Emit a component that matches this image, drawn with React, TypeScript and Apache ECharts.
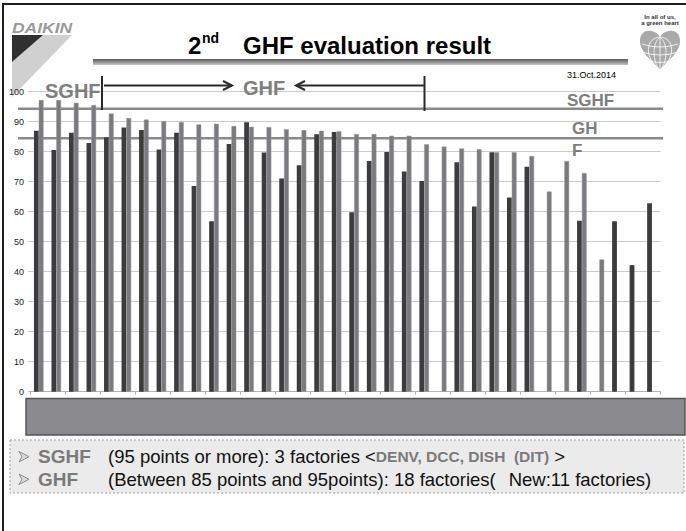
import React, { useEffect, useRef } from "react";
import * as echarts from "echarts";

// ---- data ----
const factories = [
  "F01", "F02", "F03", "F04", "F05", "F06", "F07", "F08", "F09", "F10", "F11", "F12",
  "F13", "F14", "F15", "F16", "F17", "F18", "F19", "F20", "F21", "F22", "F23", "F24",
  "F25", "F26", "F27", "F28", "F29", "F30", "F31", "F32", "F33", "F34", "F35", "F36",
];
const firstEvaluation = [
  87.0, 80.6, 86.3, 82.9, 84.8, 88.1, 87.2, 80.7, 86.3, 68.6, 56.8, 82.6,
  89.8, 79.7, 71.1, 75.5, 85.8, 86.6, 59.8, 76.9, 79.9, 73.4, 70.2, null,
  76.5, 61.7, 79.8, 64.7, 75.0, null, null, 57.0, null, 56.8, 42.2, 62.8,
];
const secondEvaluation = [
  97.2, 97.2, 96.3, 95.6, 92.7, 91.2, 90.7, 90.2, 89.9, 89.1, 89.3, 88.6,
  88.3, 88.2, 87.5, 87.2, 87.0, 86.8, 85.9, 85.9, 85.3, 85.3, 82.5, 81.7,
  81.1, 80.8, 79.8, 79.8, 78.6, 66.7, 76.9, 72.9, 44.1, null, null, null,
];
const thresholdLines = [94.3, 84.5];
const yMin = 0;
const yMax = 100;
const yInterval = 10;

const FONT = '"Liberation Sans", Arial, "Noto Sans CJK JP", sans-serif';

const HEART =
  "M20 9 C 16 1, 0 -1, 0 13 C 0 25, 13 33, 20 42 C 27 33, 40 25, 40 13 C 40 -1, 24 1, 20 9 Z";
const GLOBE =
  "M20 9 L20 42 M20 9 C 12 15, 12 34, 20 42 M20 9 C 28 15, 28 34, 20 42 " +
  "M20 9 C 5 10, 4 30, 20 42 M20 9 C 35 10, 36 30, 20 42 " +
  "M2 16 Q20 22 38 16 M2 24 Q20 30 38 24 M7 32 Q20 37 33 32";
echarts.graphic.registerShape("heartLogo", echarts.graphic.extendPath(HEART, {}));
echarts.graphic.registerShape("globeLines", echarts.graphic.extendPath(GLOBE, {}));

function txt(x: number, y: number, text: string, s: any, extra: any = {}) {
  return {
    type: "text",
    x,
    y,
    z: 10,
    ...extra,
    style: {
      text,
      fontFamily: FONT,
      fill: "#000",
      align: "left",
      verticalAlign: "middle",
      textAlign: "left",
      textVerticalAlign: "middle",
      ...s,
    },
  };
}

export default function App() {
  const ref = useRef<HTMLDivElement>(null);

  useEffect(() => {
    if (!ref.current) return;
    const chart = echarts.init(ref.current, undefined, { renderer: "svg" });
    chart.setOption({
      animation: false,
      backgroundColor: "#ffffff",
      grid: { left: 30, right: 25.3, top: 91.7, bottom: 139.3 },
      xAxis: {
        type: "category",
        data: factories,
        axisLine: { lineStyle: { color: "#b4b4b4", width: 1 } },
        axisTick: { show: true, length: 3, lineStyle: { color: "#b4b4b4" } },
        axisLabel: { show: false },
        splitLine: { show: false },
      },
      yAxis: {
        type: "value",
        min: yMin,
        max: yMax,
        interval: yInterval,
        axisLine: { show: false },
        axisTick: { show: true, length: 2, lineStyle: { color: "#c8c8c8" } },
        axisLabel: { fontSize: 9, color: "#222", margin: 6, fontFamily: FONT },
        splitLine: { lineStyle: { color: "#cbcbcb", width: 1 } },
      },
      series: [
        {
          type: "bar",
          name: "1st",
          data: firstEvaluation,
          barWidth: 4.8,
          barGap: "0%",
          itemStyle: { color: "#3c3c3c" },
        },
        {
          type: "bar",
          name: "2nd",
          data: secondEvaluation,
          barWidth: 4.8,
          barGap: "0%",
          itemStyle: { color: "#7a7b7f", borderColor: "#9a9a9e", borderWidth: 0.5 },
        },
      ],
    });

    const yS = chart.convertToPixel({ yAxisIndex: 0 }, thresholdLines[0]) as number;
    const yG = chart.convertToPixel({ yAxisIndex: 0 }, thresholdLines[1]) as number;

    const elements: any[] = [
      // slide border
      { type: "line", z: 20, shape: { x1: 2, y1: 4, x2: 686, y2: 4 }, style: { stroke: "#1e1e1e", lineWidth: 2 } },
      { type: "line", z: 20, shape: { x1: 3, y1: 3, x2: 3, y2: 531 }, style: { stroke: "#1e1e1e", lineWidth: 2 } },
      // Daikin logo
      {
        type: "polygon",
        z: 0,
        shape: { points: [[43, 35], [72, 35], [12, 97], [12, 62]] },
        style: { fill: "#d0d0d0" },
      },
      {
        type: "polygon",
        z: 0,
        shape: { points: [[12, 35], [43, 35], [12, 62]] },
        style: { fill: "#303030" },
      },
      txt(12, 28, "DAIKIN", { fontSize: 14, fontWeight: "bold", fontStyle: "italic", fill: "#9a9a9a" }, { scaleX: 1.25 }),
      // heart logo
      { type: "heartLogo", x: 640, y: 28, z: 10, style: { fill: "#a9a9a9" } },
      { type: "globeLines", x: 640, y: 28, z: 11, style: { fill: null, stroke: "#ffffff", lineWidth: 0.8 } },
      txt(660, 17, "In all of us,", { fontSize: 6, fontWeight: "bold", fill: "#333", align: "center", textAlign: "center" }),
      txt(660, 23, "a green heart", { fontSize: 6, fontWeight: "bold", fill: "#333", align: "center", textAlign: "center" }),
      // title
      txt(188, 45, "2", { fontSize: 24, fontWeight: "bold" }),
      txt(202, 38, "nd", { fontSize: 14, fontWeight: "bold" }),
      txt(243, 45, "GHF evaluation result", { fontSize: 24, fontWeight: "bold" }),
      {
        type: "rect",
        z: 5,
        shape: { x: 93, y: 59, width: 535, height: 6 },
        style: {
          fill: new echarts.graphic.LinearGradient(0, 0, 0, 1, [
            { offset: 0, color: "#585858" },
            { offset: 1, color: "#c6c6c6" },
          ]),
        },
      },
      txt(567, 75, "31.Oct.2014", { fontSize: 9 }),
      // threshold lines
      { type: "line", z: 1, shape: { x1: 18, y1: yS, x2: 663, y2: yS }, style: { stroke: "#8a8a8a", lineWidth: 2.5 } },
      { type: "line", z: 1, shape: { x1: 18, y1: yG, x2: 663, y2: yG }, style: { stroke: "#8a8a8a", lineWidth: 2.5 } },
      // range markers and arrows
      { type: "line", z: 12, shape: { x1: 102, y1: 76, x2: 102, y2: 110 }, style: { stroke: "#2a2a2a", lineWidth: 2 } },
      { type: "line", z: 12, shape: { x1: 424.5, y1: 76, x2: 424.5, y2: 111 }, style: { stroke: "#2a2a2a", lineWidth: 2 } },
      { type: "line", z: 12, shape: { x1: 104, y1: 85.5, x2: 232, y2: 85.5 }, style: { stroke: "#2a2a2a", lineWidth: 2 } },
      { type: "polyline", z: 12, shape: { points: [[223, 81], [232, 85.5], [223, 90]] }, style: { stroke: "#2a2a2a", lineWidth: 2, fill: null } },
      { type: "line", z: 12, shape: { x1: 296, y1: 85.5, x2: 424, y2: 85.5 }, style: { stroke: "#2a2a2a", lineWidth: 2 } },
      { type: "polyline", z: 12, shape: { points: [[305, 81], [296, 85.5], [305, 90]] }, style: { stroke: "#2a2a2a", lineWidth: 2, fill: null } },
      txt(45, 91, "SGHF", { fontSize: 20, fontWeight: "bold", fill: "#7e7e7e" }),
      txt(243, 88, "GHF", { fontSize: 20, fontWeight: "bold", fill: "#7e7e7e" }),
      txt(567, 100, "SGHF", { fontSize: 17, fontWeight: "bold", fill: "#7e7e7e" }),
      txt(572, 128.5, "GH", { fontSize: 17, fontWeight: "bold", fill: "#7e7e7e" }),
      txt(572, 150, "F", { fontSize: 17, fontWeight: "bold", fill: "#7e7e7e" }),
      // gray band under the axis
      {
        type: "rect",
        z: 5,
        shape: { x: 26, y: 398.5, width: 659, height: 36.5 },
        style: { fill: "#8b8b8f", stroke: "#565656", lineWidth: 1.5 },
      },
      // note box
      {
        type: "rect",
        z: 5,
        shape: { x: 10, y: 440, width: 674, height: 53 },
        style: { fill: "#ebebeb", stroke: "#a0a0a0", lineWidth: 1, lineDash: [2, 2] },
      },
      {
        type: "polygon",
        z: 10,
        shape: { points: [[19, 451.5], [29, 456.7], [19, 461.9], [22, 456.7]] },
        style: { fill: "#dcdcdc", stroke: "#8a8a8a", lineWidth: 1 },
      },
      {
        type: "polygon",
        z: 10,
        shape: { points: [[19, 474.1], [29, 479.3], [19, 484.5], [22, 479.3]] },
        style: { fill: "#dcdcdc", stroke: "#8a8a8a", lineWidth: 1 },
      },
      txt(38, 456.7, "SGHF", { fontSize: 19, fontWeight: "bold", fill: "#7a7a7a" }),
      txt(38, 479.3, "GHF", { fontSize: 19, fontWeight: "bold", fill: "#7a7a7a" }),
      {
        type: "text",
        x: 108,
        y: 456.7,
        z: 10,
        style: {
          text: "{n|(95 points or more): 3 factories <}{g|DENV, DCC, DISH  (DIT)}{n| >}",
          fontFamily: FONT,
          align: "left",
          verticalAlign: "middle",
          textAlign: "left",
          textVerticalAlign: "middle",
          rich: {
            n: { fontSize: 18.5, fill: "#111", color: "#111", fontFamily: FONT },
            g: { fontSize: 15.5, fontWeight: "bold", fill: "#7a7a7a", color: "#7a7a7a", fontFamily: FONT },
          },
        },
      },
      txt(108, 479.3, "(Between 85 points and 95points): 18 factories(\u2002\u2009New:11 factories)", { fontSize: 18.5, fill: "#111" }),
    ];
    chart.setOption({ graphic: { elements } });

    return () => chart.dispose();
  }, []);

  return (
    <div
      ref={ref}
      style={{ position: "absolute", left: 0, top: 0, width: 686, height: 531, background: "#fff" }}
    />
  );
}
